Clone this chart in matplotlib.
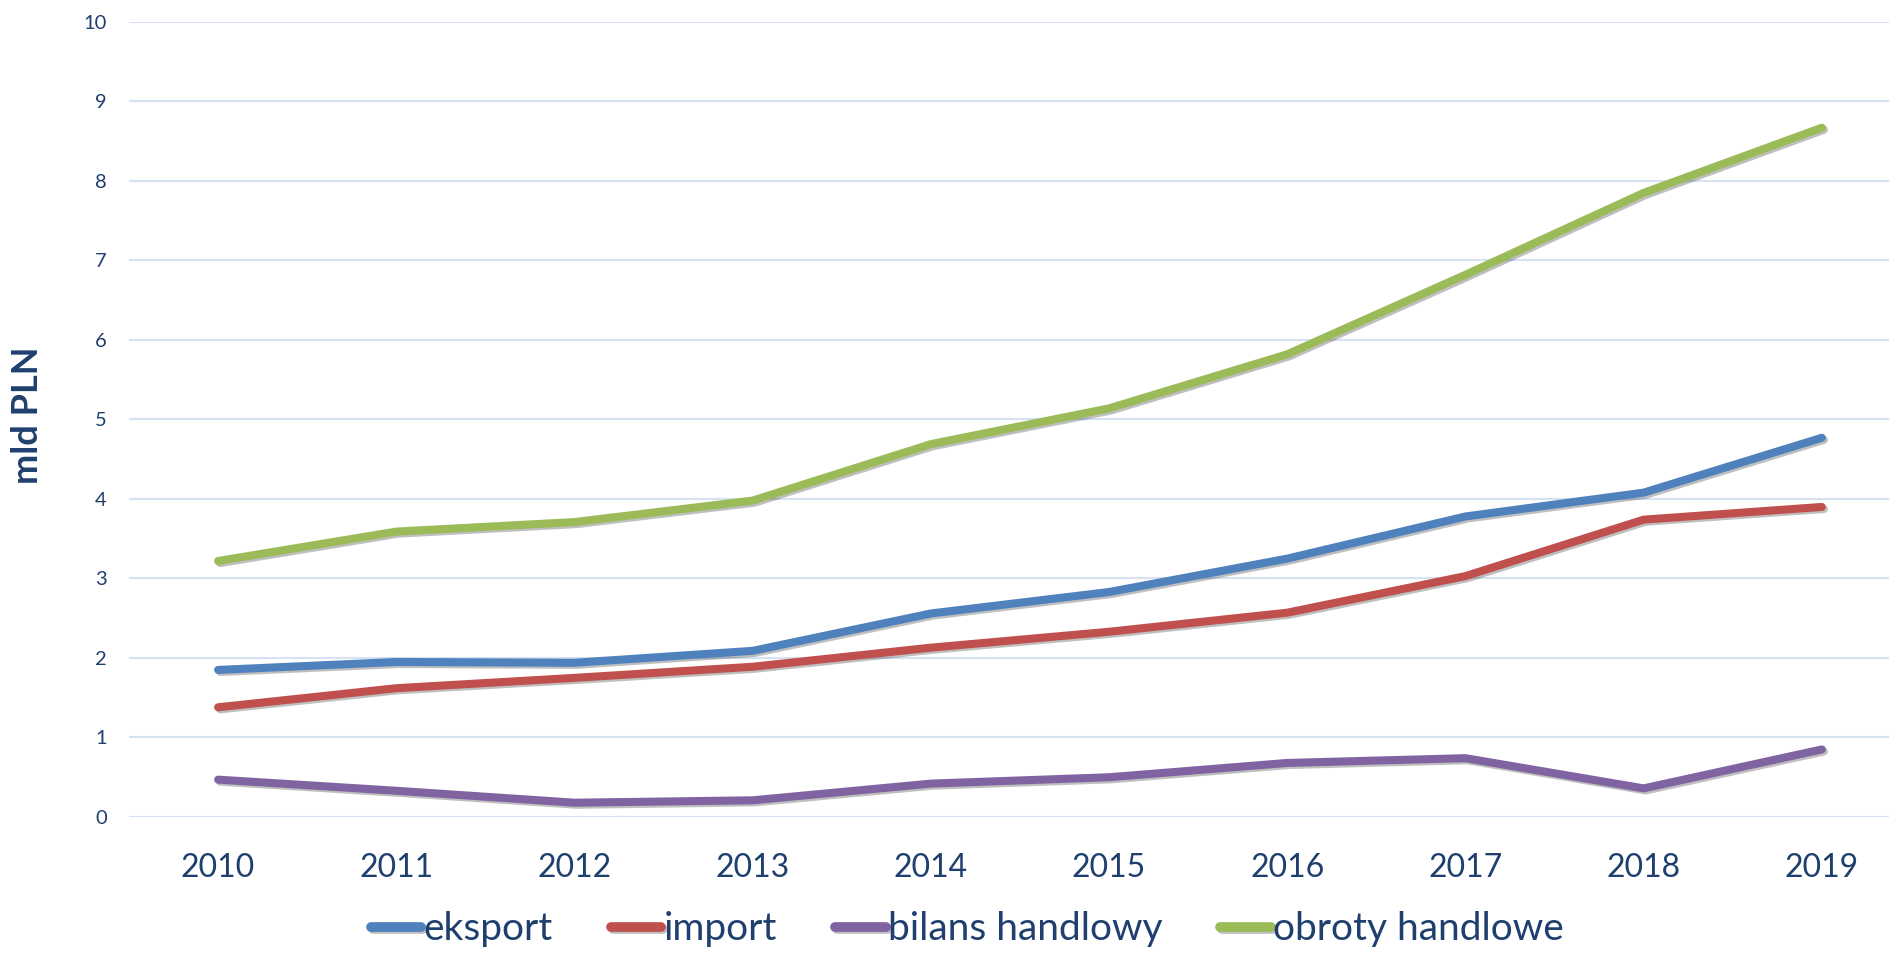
import matplotlib.pyplot as plt
import matplotlib.patheffects as pe

years = [2010, 2011, 2012, 2013, 2014, 2015, 2016, 2017, 2018, 2019]
eksport = [1.85, 1.95, 1.94, 2.09, 2.56, 2.83, 3.25, 3.78, 4.08, 4.77]
import_ = [1.38, 1.62, 1.75, 1.89, 2.13, 2.33, 2.57, 3.03, 3.74, 3.90]
bilans = [0.47, 0.33, 0.18, 0.21, 0.42, 0.50, 0.68, 0.74, 0.36, 0.85]
obroty = [3.22, 3.59, 3.71, 3.98, 4.69, 5.14, 5.82, 6.82, 7.85, 8.67]

labels = ["eksport", "import", "bilans handlowy", "obroty handlowe"]
colors = ["#4f81bd", "#c0504d", "#8064a2", "#9bbb59"]
text_color = "#1f3f6e"

plt.rcParams["font.family"] = ["Lato", "DejaVu Sans"]

fig = plt.figure(figsize=(18.89, 9.55), dpi=100)
ax = fig.add_axes([0.0683, 0.1445, 0.9317, 0.8325])

x = range(len(years))
shadow = [pe.SimpleLineShadow(offset=(1.5, -1.5), alpha=0.25), pe.Normal()]
handles = []
for series, lab, col in zip([eksport, import_, bilans, obroty], labels, colors):
    (ln,) = ax.plot(x, series, color=col, lw=5.8, solid_capstyle="round",
                    solid_joinstyle="round", label=lab, path_effects=shadow, zorder=3)
    handles.append(ln)

# Axis limits (category axis, right side cut by the image edge)
ax.set_xlim(-0.5, 9.377)
ax.set_ylim(0, 10)
ax.set_yticks(range(0, 11))
ax.set_xticks(list(x))
ax.set_xticklabels([str(y) for y in years])

ax.grid(axis="y", color="#d6e2f2", lw=1.5, zorder=0)
for s in ax.spines.values():
    s.set_visible(False)
ax.tick_params(axis="both", length=0, colors=text_color)
ax.tick_params(axis="y", labelsize=14.5, pad=16)
ax.tick_params(axis="x", labelsize=23, pad=26)

fig.text(0.0143, 0.565, "mld PLN", rotation=90, ha="center", va="center",
         fontsize=26, fontweight="bold", color=text_color)

leg = fig.legend(handles=handles, loc="center", bbox_to_anchor=(0.512, 0.027),
                 ncol=4, frameon=False, fontsize=28, handlelength=1.3,
                 handletextpad=0.05, columnspacing=1.5, borderpad=0.2)
for ln in leg.get_lines():
    ln.set_linewidth(7)
for t in leg.get_texts():
    t.set_color(text_color)

plt.savefig("out.png", dpi=100)
